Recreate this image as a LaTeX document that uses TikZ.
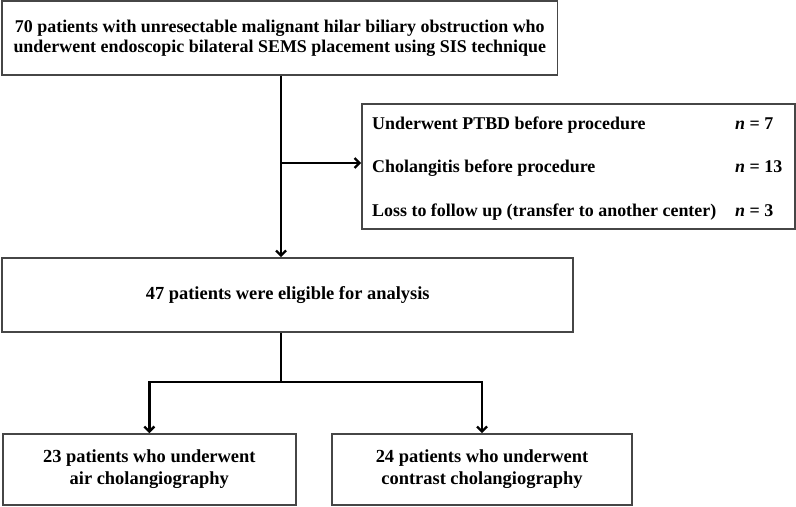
\documentclass[tikz,border=0pt]{standalone}
\usepackage{fontspec}
\setmainfont{Liberation Serif}
\usetikzlibrary{arrows.meta}
\definecolor{frame}{RGB}{70, 70, 70}

\tikzset{
  box/.style={draw=frame, line width=1.6bp, inner sep=0pt, align=center},
  link/.style={line width=2.4bp, black},
  arr/.style={link, -{Straight Barb[length=5bp, width=10bp]}}
}

\begin{document}
\begin{tikzpicture}[x=1bp, y=-1bp]

  \useasboundingbox (0, 0) rectangle (796, 507);

  \node[box, minimum width=555bp, minimum height=74bp,
        font=\bfseries\fontsize{18}{20}\selectfont] (all) at (279.8, 38)
    {70 patients with unresectable malignant hilar biliary obstruction who\\
     underwent endoscopic bilateral SEMS placement using SIS technique};

  \node[box, minimum width=433bp, minimum height=125bp] (excl) at (578.5, 166.5) {};
  \foreach \y/\txt/\n [count=\i] in {130/{Underwent PTBD before procedure}/7,
                                     173/{Cholangitis before procedure}/13,
                                     217/{Loss to follow up (transfer to another center)}/3} {
    \node[anchor=base west, inner sep=0pt, font=\bfseries\fontsize{18}{20}\selectfont]
      (reason\i) at (372, \y) {\txt};
    \node[anchor=base west, inner sep=0pt, font=\bfseries\fontsize{18}{20}\selectfont]
      (count\i) at (735, \y) {{\itshape n} = \n};
  }

  \node[box, minimum width=571bp, minimum height=74bp,
        font=\bfseries\fontsize{18.5}{22}\selectfont] (elig) at (287.7, 295)
    {47 patients were eligible for analysis};

  \node[box, minimum width=293bp, minimum height=71bp,
        font=\bfseries\fontsize{18.5}{22}\selectfont] (air) at (149.3, 469.5)
    {23 patients who underwent\\ air cholangiography};
  \node[box, minimum width=300bp, minimum height=71bp,
        font=\bfseries\fontsize{18.5}{22}\selectfont] (contrast) at (482, 469.5)
    {24 patients who underwent\\ contrast cholangiography};

  \coordinate (spine) at (281, 0);
  \coordinate (branch) at (281, 163);
  \coordinate (fork) at (281, 382);

  \draw[arr] (all.south -| spine) -- (elig.north -| spine);
  \draw[arr] (branch) -- (branch -| excl.west);
  \draw[link] (elig.south -| spine) -- (fork);
  \draw[arr] (fork) -| (air.north);
  \draw[arr] (fork) -| (contrast.north);

\end{tikzpicture}
\end{document}
